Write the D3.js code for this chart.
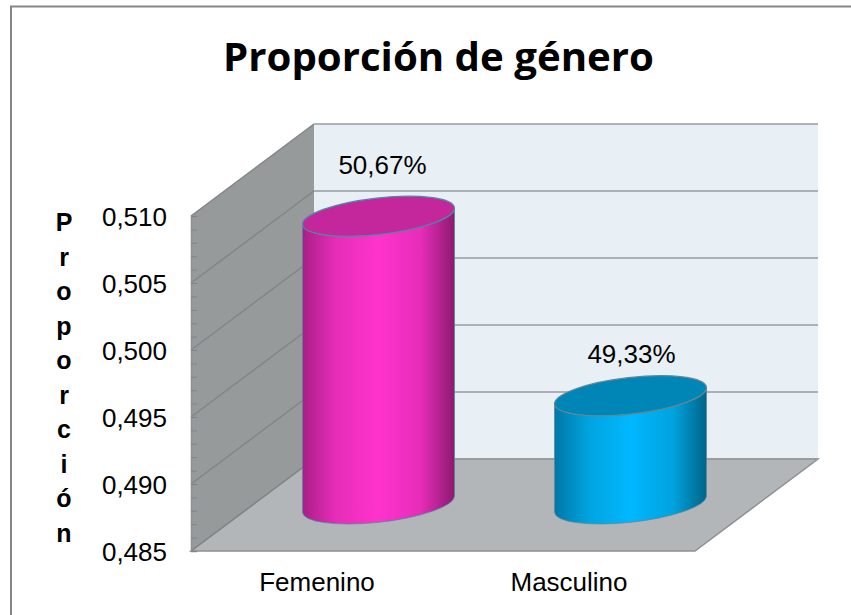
<!DOCTYPE html>
<html>
<head>
  <meta charset="utf-8" />
  <script src="https://d3js.org/d3.v7.min.js"></script>
  <style>
    body {
      margin: 0;
      background: #fff;
    }
    svg {
      display: block;
    }
    text {
      font-family: "Liberation Sans", sans-serif;
      fill: #000;
    }
  </style>
</head>
<body>
  <script>
    var titleText = "Proporción de género";
    var axisTitle = "Proporción";
    var categories = ["Femenino", "Masculino"];
    var values = [0.5067, 0.4933];
    var labels = ["50,67%", "49,33%"];
    var yTicks = [0.485, 0.490, 0.495, 0.500, 0.505, 0.510];
    var minorTicks = [0.486, 0.487, 0.488, 0.489, 0.491, 0.492, 0.493, 0.494, 0.496, 0.497, 0.498, 0.499, 0.501, 0.502, 0.503, 0.504, 0.506, 0.507, 0.508, 0.509];

    var width = 851;
    var height = 615;
    var depthX = 123;  // how far the back wall sits from the front plane
    var depthY = -92;

    var x = d3.scaleBand().domain(categories).range([191, 695]);
    var y = d3.scaleLinear().domain([0.485, 0.510]).range([551, 216]);
    var comma = d3.formatLocale({ decimal: ",", thousands: ".", grouping: [3], currency: ["", ""] }).format(".3f");

    var svg = d3.select("body")
      .append("svg")
      .attr("width", width)
      .attr("height", height);

    var defs = svg.append("defs");
    function sideGradient(id, edge, mid, light, dark) {
      var g = defs.append("linearGradient").attr("id", id);
      g.append("stop").attr("offset", "0%").attr("stop-color", edge);
      g.append("stop").attr("offset", "22%").attr("stop-color", mid);
      g.append("stop").attr("offset", "50%").attr("stop-color", light);
      g.append("stop").attr("offset", "78%").attr("stop-color", mid);
      g.append("stop").attr("offset", "100%").attr("stop-color", dark);
    }
    sideGradient("side0", "#a91f86", "#e62db8", "#ff33cc", "#8c1a70");
    sideGradient("side1", "#0077a8", "#00a3de", "#00b8ff", "#006488");
    var topFill = ["#c4279c", "#0086b6"];
    var rimColor = ["#4a8aa4", "#5f8796"];

    // chart frame, only top and left edges show
    svg.append("path")
      .attr("d", `M11 ${height} V6.5 H${width}`)
      .attr("fill", "none")
      .attr("stroke", "#868686")
      .attr("stroke-width", 2);

    var x0 = x.range()[0], x1 = x.range()[1];
    var yTop = y.range()[1], yBot = y.range()[0];

    // back wall
    svg.append("rect")
      .attr("x", x0 + depthX)
      .attr("y", yTop + depthY)
      .attr("width", x1 - x0)
      .attr("height", yBot - yTop)
      .attr("fill", "#e8f0f6");

    // left wall
    svg.append("path")
      .attr("d", `M${x0} ${yTop} L${x0 + depthX} ${yTop + depthY} V${yBot + depthY} L${x0} ${yBot} Z`)
      .attr("fill", "#969a9b");

    // floor
    svg.append("path")
      .attr("d", `M${x0} ${yBot} L${x0 + depthX} ${yBot + depthY} H${x1 + depthX} L${x1} ${yBot} Z`)
      .attr("fill", "#b2b6b9")
      .attr("stroke", "#8e9092")
      .attr("stroke-width", 1.5);

    // gridlines, a bit darker on the side wall than on the back wall
    var grid = svg.append("g");
    grid.selectAll(".side")
      .data(yTicks)
      .enter()
      .append("path")
      .attr("class", "side")
      .attr("d", function(d) {
        return `M${x0} ${y(d)} L${x0 + depthX} ${y(d) + depthY}`;
      })
      .attr("stroke", "#818586")
      .attr("stroke-width", 1.5);
    grid.selectAll(".back")
      .data(yTicks)
      .enter()
      .append("path")
      .attr("class", "back")
      .attr("d", function(d) {
        return `M${x0 + depthX} ${y(d) + depthY} H${x1 + depthX}`;
      })
      .attr("stroke", "#999b9d")
      .attr("stroke-width", 1.5);

    // front edge of the left wall with its minor ticks
    var minorAxis = d3.axisRight(y).tickValues(minorTicks.concat(yTicks)).tickSize(6).tickFormat("");
    svg.append("g")
      .attr("transform", `translate(${x0} 0)`)
      .call(minorAxis)
      .call(function(g) {
        g.selectAll("line").attr("stroke", "#80848a");
        g.select(".domain").attr("stroke", "#8e9092").attr("stroke-width", 1.5);
      });

    var yAxis = d3.axisLeft(y).tickValues(yTicks).tickSize(0).tickPadding(24).tickFormat(comma);
    svg.append("g")
      .attr("transform", `translate(${x0} 1)`)
      .call(yAxis)
      .call(function(g) {
        g.select(".domain").remove();
        g.selectAll("text").style("font-size", "26px").attr("fill", "#000");
      });

    var xAxis = d3.axisBottom(x).tickSize(0).tickPadding(22);
    svg.append("g")
      .attr("transform", `translate(0 ${yBot})`)
      .call(xAxis)
      .call(function(g) {
        g.select(".domain").remove();
        g.selectAll("text").style("font-size", "26px").attr("fill", "#000");
      });

    // cylinders sit halfway between the front plane and the back wall
    var barShiftX = depthX / 2;
    var barShiftY = depthY / 2 + 2;
    var baseLift = 3;
    var halfW = 76;
    var rx = 76.4, ry = 18.2, tilt = -6.4, rise = 8;

    var bars = svg.selectAll(".bar")
      .data(values)
      .enter()
      .append("g")
      .attr("class", "bar");

    function cx(i) {
      return x(categories[i]) + x.bandwidth() / 2 + barShiftX;
    }

    bars.append("path")
      .attr("d", function(d, i) {
        var c = cx(i), t = y(d) + barShiftY, b = y(0.485) + barShiftY - baseLift;
        return `M${c - halfW} ${t + rise} V${b + rise}` +
          ` A${rx} ${ry} ${tilt} 0 0 ${c + halfW} ${b - rise}` +
          ` V${t - rise}` +
          ` A${rx} ${ry} ${tilt} 0 1 ${c - halfW} ${t + rise} Z`;
      })
      .attr("fill", function(d, i) { return `url(#side${i})`; })
      .attr("stroke", function(d, i) { return rimColor[i]; })
      .attr("stroke-width", 0.75);

    bars.append("ellipse")
      .attr("rx", rx)
      .attr("ry", ry)
      .attr("transform", function(d, i) {
        return `translate(${cx(i)} ${y(d) + barShiftY}) rotate(${tilt})`;
      })
      .attr("fill", function(d, i) { return topFill[i]; })
      .attr("stroke", function(d, i) { return rimColor[i]; })
      .attr("stroke-width", 1.25);

    // data labels were placed by hand in the original, so each has its own nudge
    var labelNudge = [[4, -42], [1, -33]];
    bars.append("text")
      .attr("x", function(d, i) { return cx(i) + labelNudge[i][0]; })
      .attr("y", function(d, i) { return y(d) + barShiftY + labelNudge[i][1]; })
      .attr("text-anchor", "middle")
      .style("font-size", "26px")
      .text(function(d, i) { return labels[i]; });

    // title
    svg.append("text")
      .attr("x", 438.5)
      .attr("y", 71)
      .attr("text-anchor", "middle")
      .style("font-family", "'Open Sans', sans-serif")
      .style("font-weight", "700")
      .style("font-size", "40.2px")
      .text(titleText);

    // vertical axis title, one stacked letter per line
    svg.append("g")
      .selectAll("text")
      .data(axisTitle.split(""))
      .enter()
      .append("text")
      .attr("x", 64)
      .attr("y", function(d, i) { return 231 + i * 34.5; })
      .attr("text-anchor", "middle")
      .style("font-size", "25px")
      .style("font-weight", "700")
      .text(function(d) { return d; });
  </script>
</body>
</html>
